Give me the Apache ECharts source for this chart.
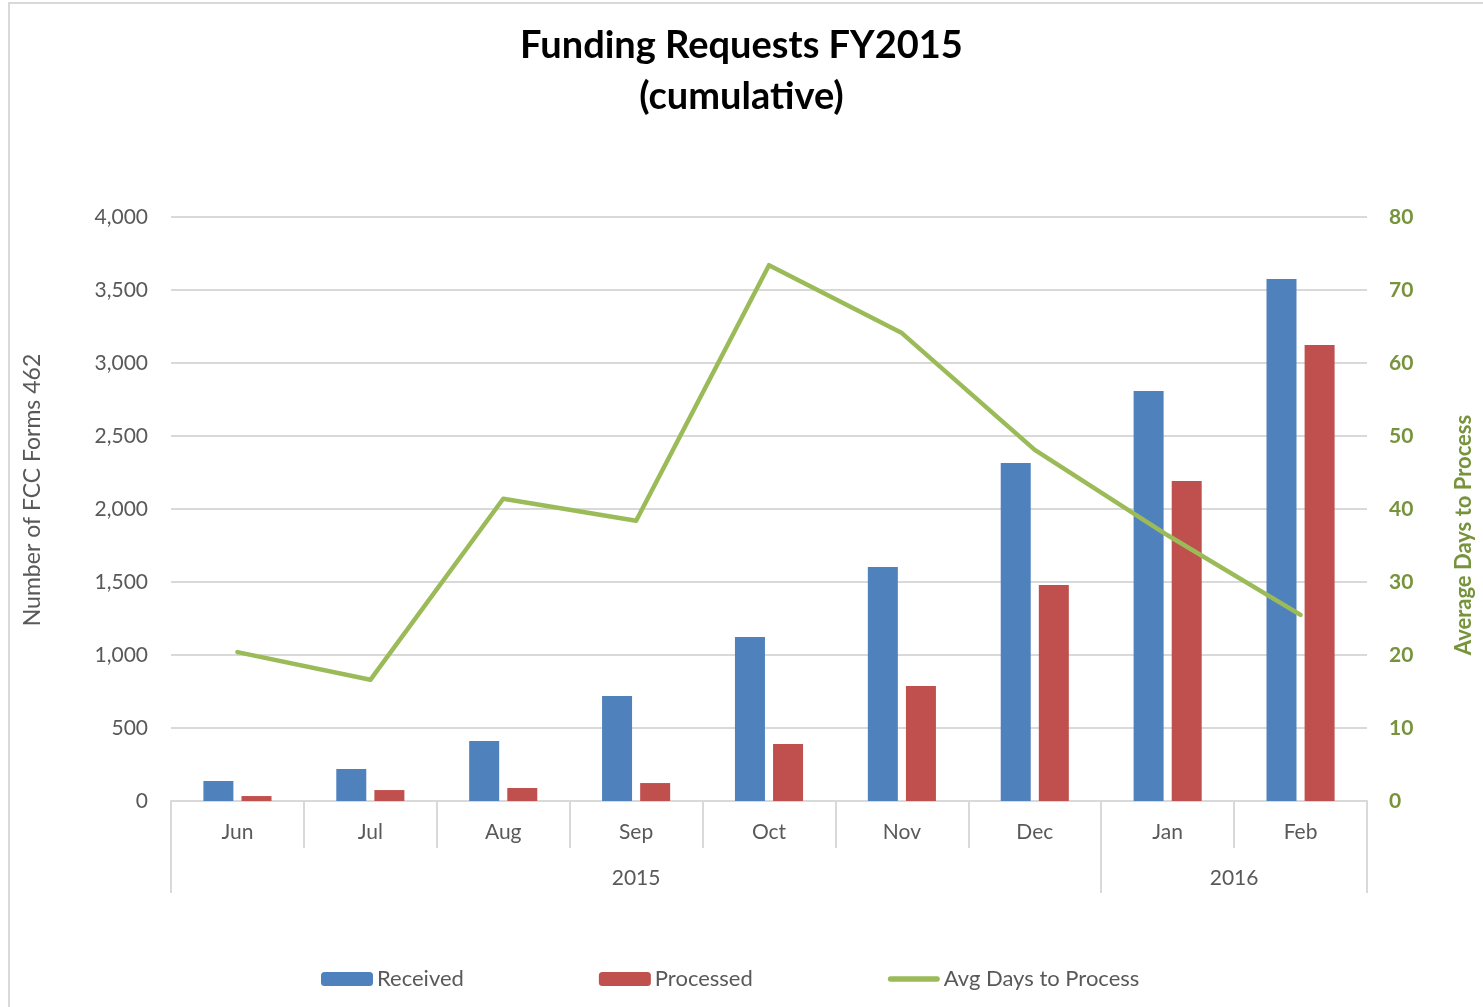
<!DOCTYPE html>
<html>
<head>
<meta charset="utf-8">
<script src="https://cdn.jsdelivr.net/npm/echarts@6/dist/echarts.min.js"></script>
<style>
  html, body { margin: 0; padding: 0; background: #fff; }
  #chart { position: absolute; left: 0; top: 0; width: 1483px; height: 1007px; }
  #frame { position: absolute; left: 8px; top: 2px; width: 1600px; height: 1100px;
           border: 2px solid #d9d9d9; pointer-events: none; }
</style>
</head>
<body>
<div id="frame"></div>
<div id="chart"></div>
<script>
// 数据
const months = ['Jun', 'Jul', 'Aug', 'Sep', 'Oct', 'Nov', 'Dec', 'Jan', 'Feb']
const received = [137, 219, 411, 719, 1123, 1603, 2315, 2808, 3575]
const processed = [34, 75, 89, 123, 390, 788, 1479, 2192, 3123]
const avgDays = [20.4, 16.6, 41.4, 38.4, 73.4, 64.1, 48.1, 36.4, 25.5]
// 年份分组：[名称, 起始, 结束]
const years = [['2015', 0, 7], ['2016', 7, 9]]

const font = 'Lato'
const gray = '#595959'
const green = '#77933c'

const yearTicks = [0].concat(years.map(y => y[2]))
const yearMids = years.map(y => (y[1] + y[2]) / 2)

const myChart = echarts.init(document.getElementById('chart'))
myChart.setOption({
    animation: false,
    textStyle: { fontFamily: font },
    title: {
        text: 'Funding Requests FY2015\n(cumulative)',
        left: 'center',
        top: 15,
        textStyle: { fontFamily: font, fontSize: 38, fontWeight: 'bold', color: '#000', lineHeight: 51 },
    },
    grid: { left: 171, right: 116, top: 217, bottom: 206, outerBoundsMode: 'none', containLabel: false },
    legend: {
        bottom: 12,
        left: 316,
        itemWidth: 52,
        itemHeight: 14,
        itemGap: 135,
        textStyle: { fontFamily: font, fontSize: 22, color: gray, padding: [0, 0, 0, -1] },
        data: [
            'Received',
            'Processed',
            {
                name: 'Avg Days to Process',
                icon: 'path://M3,0 L53,0 A3,3 0 0 1 53,6 L3,6 A3,3 0 0 1 3,0 Z',
            },
        ],
    },
    xAxis: [
        {
            type: 'category',
            data: months,
            position: 'bottom',
            axisLine: { lineStyle: { color: '#d9d9d9', width: 2 } },
            axisTick: { show: true, interval: 0, length: 47, lineStyle: { color: '#d9d9d9', width: 2 } },
            axisLabel: { interval: 0, margin: 21, fontSize: 21, color: gray, fontFamily: font },
        },
        {
            type: 'value',
            min: 0,
            max: months.length,
            position: 'bottom',
            splitLine: { show: false },
            axisLine: { show: false },
            axisTick: { show: true, customValues: yearTicks, length: 92, lineStyle: { color: '#d9d9d9', width: 2 } },
            axisLabel: {
                customValues: yearMids,
                margin: 67,
                fontSize: 21,
                color: gray,
                fontFamily: font,
                formatter: v => {
                    const y = years.find(y => (y[1] + y[2]) / 2 === v)
                    return y ? y[0] : ''
                },
            },
        },
    ],
    yAxis: [
        {
            type: 'value',
            min: 0,
            max: 4000,
            interval: 500,
            name: 'Number of FCC Forms 462',
            nameLocation: 'middle',
            nameGap: 127,
            nameTextStyle: { fontSize: 23, color: gray, fontFamily: font, padding: [0, 0, 0, 38] },
            axisLine: { show: false },
            axisTick: { show: false },
            splitLine: { lineStyle: { color: '#d9d9d9', width: 2 } },
            axisLabel: {
                margin: 23,
                fontSize: 21,
                color: gray,
                fontFamily: font,
                formatter: v => v.toLocaleString('en-US'),
            },
        },
        {
            type: 'value',
            min: 0,
            max: 80,
            interval: 10,
            name: 'Average Days to Process',
            nameLocation: 'middle',
            nameGap: 86,
            nameRotate: 90,
            nameTextStyle: { fontSize: 22, color: green, fontWeight: 'bold', fontFamily: font, padding: [0, 52, 0, 0] },
            axisLine: { show: false },
            axisTick: { show: false },
            splitLine: { show: false },
            axisLabel: { margin: 22, fontSize: 21, color: green, fontWeight: 'bold', fontFamily: font },
        },
    ],
    series: [
        {
            name: 'Received',
            type: 'bar',
            data: received,
            barWidth: 30,
            barGap: '27%',
            itemStyle: { color: '#4f81bd' },
        },
        {
            name: 'Processed',
            type: 'bar',
            data: processed,
            barWidth: 30,
            itemStyle: { color: '#c0504d' },
        },
        {
            name: 'Avg Days to Process',
            type: 'line',
            yAxisIndex: 1,
            data: avgDays,
            symbol: 'none',
            itemStyle: { color: '#9bbb59' },
            lineStyle: { color: '#9bbb59', width: 4.5, cap: 'round', join: 'round' },
        },
    ],
})
</script>
</body>
</html>
